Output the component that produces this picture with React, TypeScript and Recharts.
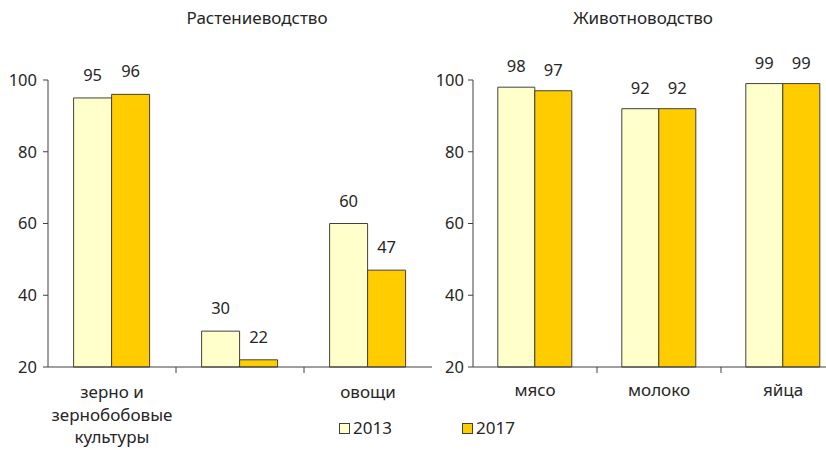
import React from 'react';
import { BarChart, Bar, XAxis, YAxis, LabelList, Legend } from 'recharts';

const cropCategories = ['зерно и\nзернобобовые\nкультуры', '', 'овощи'];
const crop2013 = [95, 30, 60];
const crop2017 = [96, 22, 47];

const livestockCategories = ['мясо', 'молоко', 'яйца'];
const livestock2013 = [98, 92, 99];
const livestock2017 = [97, 92, 99];

const yTicks = [20, 40, 60, 80, 100];
const seriesNames = ['2013', '2017'];
const titles = ['Растениеводство', 'Животноводство'];

const FONT = '"Noto Sans", "Open Sans", sans-serif';
const TEXT = '#262626';
const AXIS = '#404040';
const C2013 = '#FFFFCC';
const C2017 = '#FFCC00';
const NUM_SIZE = 16.5;
const TXT_SIZE = 17;

const cropData = cropCategories.map((c, i) => ({ cat: c, a: crop2013[i], b: crop2017[i] }));
const livestockData = livestockCategories.map((c, i) => ({ cat: c, a: livestock2013[i], b: livestock2017[i] }));

const makeTick = (count: number, firstLineDy: number) => (props: any) => {
  const { x, y, payload, index } = props;
  const lines = String(payload.value).split('\n');
  const off = payload.offset ?? 0;
  return (
    <g>
      {index < count - 1 && (
        <line x1={x + off} x2={x + off} y1={y} y2={y + 6} stroke={AXIS} strokeWidth={1} />
      )}
      {lines.map((l, i) => (
        <text key={i} x={x} y={y + firstLineDy + i * 22.5} textAnchor="middle" fill={TEXT} fontSize={TXT_SIZE} fontFamily={FONT}>
          {l}
        </text>
      ))}
    </g>
  );
};

const LegendContent = (props: any) => {
  const { payload } = props;
  return (
    <div style={{ display: 'flex', fontFamily: FONT, fontSize: TXT_SIZE, color: TEXT }}>
      {(payload || []).map((p: any, i: number) => (
        <div key={i} style={{ display: 'flex', alignItems: 'center', width: 123 }}>
          <span style={{ display: 'inline-block', width: 9, height: 9, border: `1px solid ${AXIS}`, background: p.color, marginRight: 3 }} />
          <span style={{ lineHeight: '20px' }}>{p.value}</span>
        </div>
      ))}
    </div>
  );
};

const Title = ({ text, left, width }: { text: string; left: number; width: number }) => (
  <div style={{ position: 'absolute', left, top: 8, width, textAlign: 'center', fontFamily: FONT, fontSize: TXT_SIZE, color: TEXT, lineHeight: '20px' }}>
    {text}
  </div>
);

export default function App() {
  return (
    <div style={{ position: 'absolute', left: 0, top: 0, width: 826, height: 450, overflow: 'hidden', background: '#fff' }}>
      <Title text={titles[0]} left={157} width={200} />
      <Title text={titles[1]} left={543} width={200} />
      <div style={{ position: 'absolute', left: 0, top: 0 }}>
        <BarChart width={440} height={450} data={cropData} margin={{ top: 80, right: 8, bottom: 53, left: 0 }} barCategoryGap="20%" barGap={0}>
          <XAxis dataKey="cat" height={30} interval={0} tickLine={false} tickSize={0} tickMargin={0} stroke={AXIS} tick={makeTick(3, 31)} />
          <YAxis domain={[20, 100]} ticks={yTicks} width={48} tickSize={5} tickMargin={6} stroke={AXIS}
            tick={{ fill: TEXT, fontSize: NUM_SIZE, fontFamily: FONT }} />
          <Bar dataKey="a" name={seriesNames[0]} fill={C2013} stroke={AXIS} strokeWidth={1} isAnimationActive={false}>
            <LabelList dataKey="a" position="top" offset={17} fill={TEXT} fontSize={NUM_SIZE} fontFamily={FONT} />
          </Bar>
          <Bar dataKey="b" name={seriesNames[1]} fill={C2017} stroke={AXIS} strokeWidth={1} isAnimationActive={false}>
            <LabelList dataKey="b" position="top" offset={17} fill={TEXT} fontSize={NUM_SIZE} fontFamily={FONT} />
          </Bar>
          <Legend layout="horizontal" verticalAlign="middle" align="center" content={<LegendContent />}
            wrapperStyle={{ left: 339, top: 418, width: 260, height: 20 }} />
        </BarChart>
      </div>
      <div style={{ position: 'absolute', left: 420, top: 0 }}>
        <BarChart width={425} height={450} data={livestockData} margin={{ top: 80, right: 0, bottom: 53, left: 0 }} barCategoryGap="20%" barGap={0}>
          <XAxis dataKey="cat" height={30} interval={0} tickLine={false} tickSize={0} tickMargin={0} stroke={AXIS} tick={makeTick(4, 29)} />
          <YAxis domain={[20, 100]} ticks={yTicks} width={53} tickSize={5} tickMargin={4} stroke={AXIS}
            tick={{ fill: TEXT, fontSize: NUM_SIZE, fontFamily: FONT }} />
          <Bar dataKey="a" name={seriesNames[0]} fill={C2013} stroke={AXIS} strokeWidth={1} isAnimationActive={false}>
            <LabelList dataKey="a" position="top" offset={15} fill={TEXT} fontSize={NUM_SIZE} fontFamily={FONT} />
          </Bar>
          <Bar dataKey="b" name={seriesNames[1]} fill={C2017} stroke={AXIS} strokeWidth={1} isAnimationActive={false}>
            <LabelList dataKey="b" position="top" offset={15} fill={TEXT} fontSize={NUM_SIZE} fontFamily={FONT} />
          </Bar>
        </BarChart>
      </div>
    </div>
  );
}
